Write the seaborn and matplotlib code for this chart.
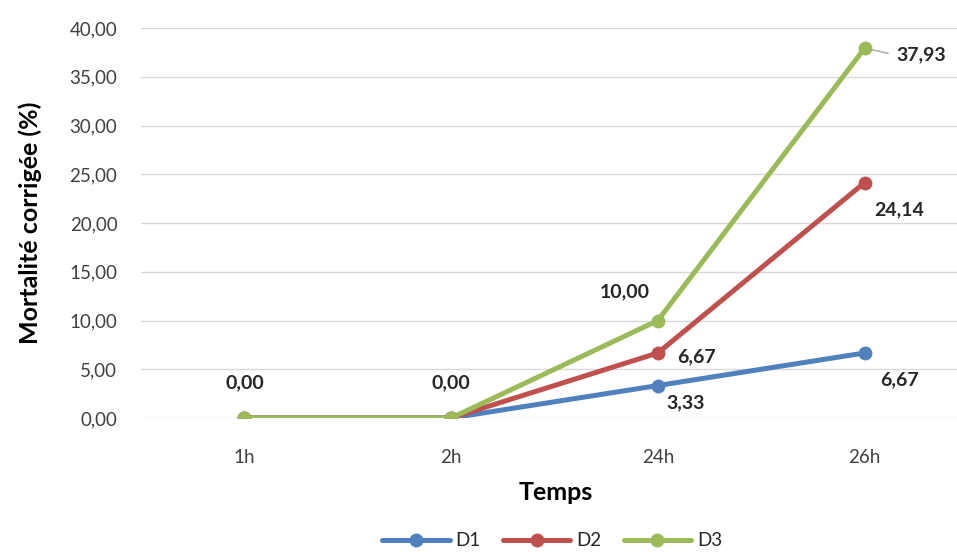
import pandas as pd
import matplotlib
matplotlib.use('Agg')
import matplotlib.pyplot as plt
import seaborn as sns

TEMPS = ['1h', '2h', '24h', '26h']
D1 = [0.00, 0.00, 3.33, 6.67]
D2 = [0.00, 0.00, 6.67, 24.14]
D3 = [0.00, 0.00, 10.00, 37.93]
SERIES = ['D1', 'D2', 'D3']
COLORS = ['#4F81BD', '#C0504D', '#9BBB59']
Y_TICKS = [0, 5, 10, 15, 20, 25, 30, 35, 40]

rows = []
for name, vals in zip(SERIES, [D1, D2, D3]):
    for i, (t, v) in enumerate(zip(TEMPS, vals)):
        rows.append({'pos': i, 'Temps': t, 'serie': name, 'val': v})
df = pd.DataFrame(rows)

sns.set_style('white')
plt.rcParams['font.family'] = ['Lato', 'DejaVu Sans']

fig = plt.figure(figsize=(9.57, 5.52), dpi=100)
W, H = 957, 552
ax = fig.add_axes([141 / W, (H - 418) / H, 827 / W, 390 / H])

sns.lineplot(data=df, x='pos', y='val', hue='serie', palette=COLORS,
             marker='o', markersize=10, markeredgewidth=0, linewidth=3.6,
             ax=ax, legend=True)

ax.set_xlim(-0.5, 3.5)
ax.set_ylim(0, 40)
ax.set_yticks(Y_TICKS)
ax.set_yticklabels([f'{v:.2f}'.replace('.', ',') for v in Y_TICKS])
ax.set_xticks(range(len(TEMPS)))
ax.set_xticklabels(TEMPS)
ax.tick_params(axis='both', length=0, labelsize=13.5, colors='#404040')
ax.tick_params(axis='x', pad=22)
ax.tick_params(axis='y', pad=17)
ax.grid(axis='y', color='#D9D9D9', linewidth=1)
ax.set_axisbelow(True)
for s in ax.spines.values():
    s.set_visible(False)

ax.set_xlabel('Temps', fontsize=18, fontweight='bold', color='#000000')
ax.xaxis.set_label_coords(415 / 827, -74 / 390)
ax.xaxis.label.set_va('center')
ax.set_ylabel('Mortalité corrigée (%)', fontsize=18, fontweight='bold', color='#000000')
ax.yaxis.set_label_coords(-111 / 827, 0.5)
ax.yaxis.label.set_va('center')


def fmt(v):
    return f'{v:.2f}'.replace('.', ',')


# data labels: (serie values, index, offset in pixels)
labels = [
    (D3, 0, (0, 35)),
    (D3, 1, (0, 35)),
    (D3, 2, (-33, 29)),
    (D2, 2, (39, -4)),
    (D1, 2, (28, -17)),
    (D1, 3, (35, -27)),
    (D2, 3, (35, -27)),
]
for vals, i, off in labels:
    ax.annotate(fmt(vals[i]), (i, vals[i]), xytext=off, textcoords='offset pixels',
                ha='center', va='center', fontsize=14, fontweight='bold',
                color='#262626', annotation_clip=False)

ax.annotate(fmt(D3[3]), (3, D3[3]), xytext=(57, -7), textcoords='offset pixels',
            ha='center', va='center', fontsize=14, fontweight='bold', color='#262626',
            annotation_clip=False,
            arrowprops=dict(arrowstyle='-', color='#A6A6A6', lw=1,
                            shrinkA=4, shrinkB=5, relpos=(0, 0.5)))

handles, lbls = ax.get_legend_handles_labels()
ax.get_legend().remove()
fig.legend(handles, lbls, loc='center', bbox_to_anchor=(552 / W, 1 - 541 / H),
           ncol=3, frameon=False, fontsize=13.5, handlelength=3.6,
           columnspacing=1.2, handletextpad=0.3)

fig.savefig('out.png', dpi=100)
